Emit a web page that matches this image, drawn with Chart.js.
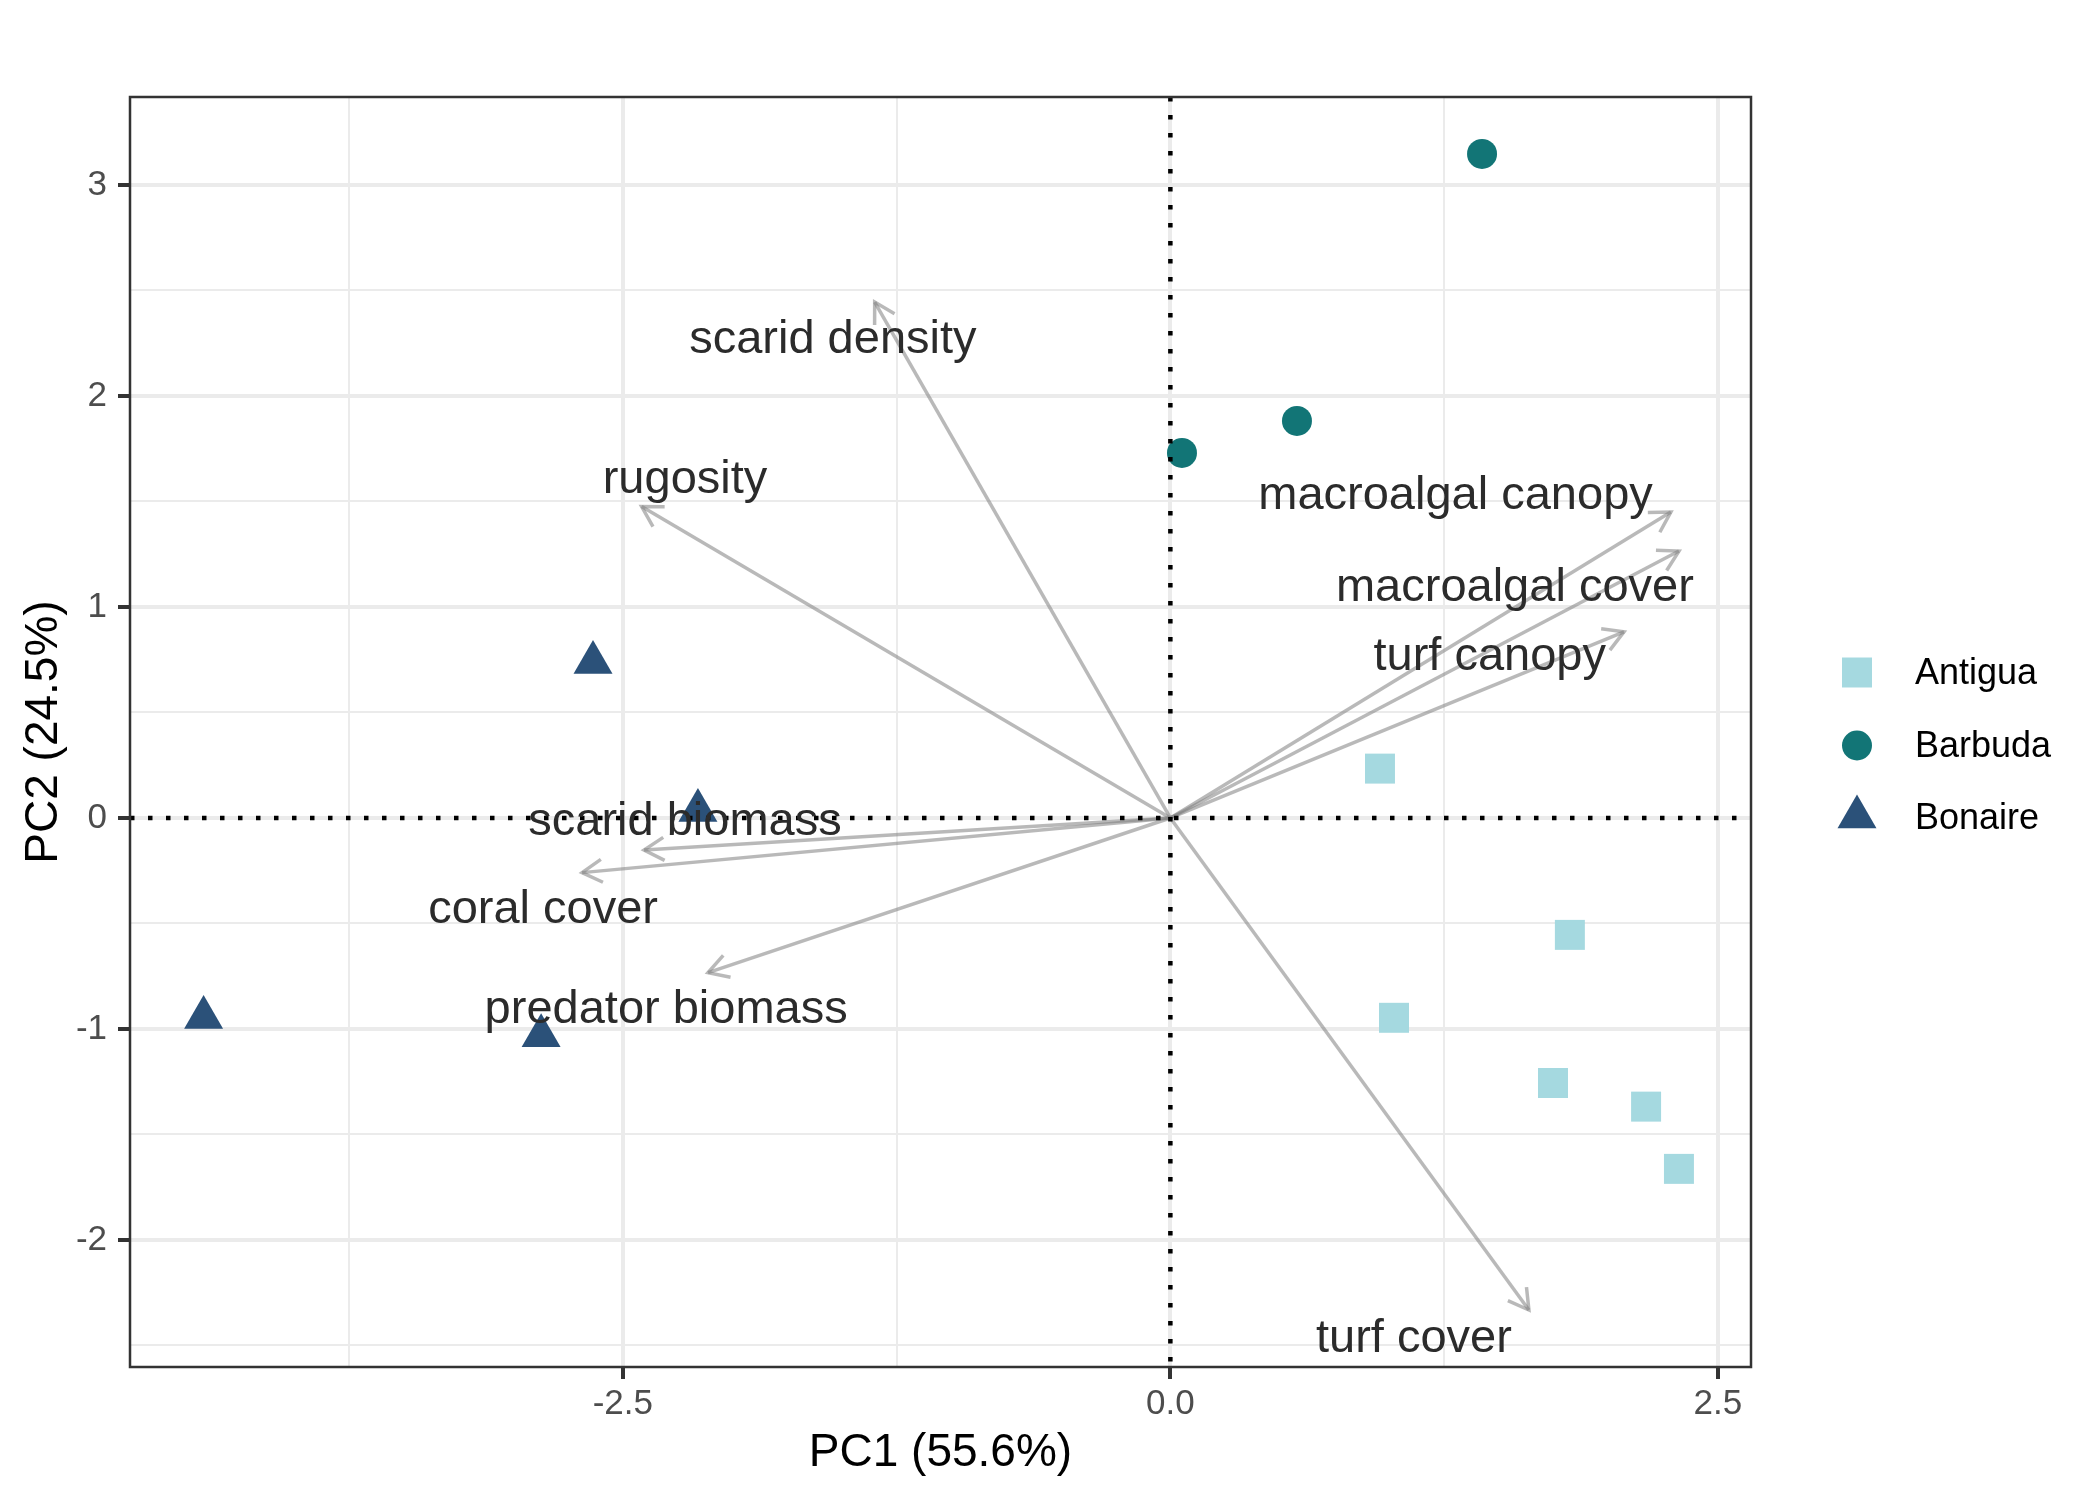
<!DOCTYPE html>
<html>
<head>
<meta charset="utf-8">
<title>PCA biplot</title>
<script src="https://cdn.jsdelivr.net/npm/chart.js@4.4.1/dist/chart.umd.min.js"></script>
<style>
  html, body { margin: 0; padding: 0; background: #fff; }
  #wrap { width: 2100px; height: 1500px; }
</style>
</head>
<body>
<div id="wrap"><canvas id="pcaChart" width="2100" height="1500"></canvas></div>
<script>
// site scores
const groups = ["Antigua", "Barbuda", "Bonaire"];
const antiguaPC1 = [0.957, 1.824, 1.021, 1.747, 2.172, 2.322];
const antiguaPC2 = [0.234, -0.554, -0.947, -1.256, -1.368, -1.663];
const barbudaPC1 = [1.423, 0.578, 0.053];
const barbudaPC2 = [3.147, 1.882, 1.730];
const bonairePC1 = [-2.636, -2.157, -4.414, -2.873];
const bonairePC2 = [0.737, 0.036, -0.945, -1.032];

// variable loadings (arrow tips) and where their labels sit
const loadingNames = ["scarid density", "rugosity", "macroalgal canopy", "macroalgal cover",
  "turf canopy", "scarid biomass", "coral cover", "predator biomass", "turf cover"];
const loadingPC1 = [-1.350, -2.414, 2.285, 2.322, 2.071, -2.403, -2.686, -2.111, 1.637];
const loadingPC2 = [2.445, 1.476, 1.450, 1.265, 0.882, -0.152, -0.259, -0.733, -2.332];
const labelPC1 = [-1.541, -2.216, 1.302, 1.573, 1.458, -2.216, -2.864, -2.302, 1.112];
const labelPC2 = [2.263, 1.600, 1.528, 1.088, 0.764, -0.020, -0.436, -0.910, -2.471];

// axes
const xTitle = "PC1 (55.6%)";
const yTitle = "PC2 (24.5%)";
const xMin = -4.75, xMax = 2.651;
const yMin = -2.602, yMax = 3.417;

const groupColors = ["#a5d9e0", "#127576", "#2b5179"];
const groupShapes = ["rect", "circle", "triangle"];
const groupRadius = [21.2, 15, 22.5];
const arrowColor = "rgba(128,128,128,0.55)";
const FONT = "'Liberation Sans', Arial, Helvetica, sans-serif";

Chart.defaults.font.family = FONT;

function toPoints(xs, ys) {
  return xs.map((v, i) => ({ x: v, y: ys[i] }));
}

const groupData = [
  toPoints(antiguaPC1, antiguaPC2),
  toPoints(barbudaPC1, barbudaPC2),
  toPoints(bonairePC1, bonairePC2),
];

const datasets = [];
loadingNames.forEach((name, i) => {
  datasets.push({
    label: name,
    isLoading: true,
    data: [{ x: 0, y: 0 }, { x: loadingPC1[i], y: loadingPC2[i] }],
    showLine: true,
    borderColor: arrowColor,
    borderWidth: 3.5,
    borderCapStyle: "butt",
    pointRadius: 0,
    pointHoverRadius: 0,
    order: 2,
  });
});
groups.forEach((g, i) => {
  datasets.push({
    label: g,
    data: groupData[i],
    pointStyle: groupShapes[i],
    pointRadius: groupRadius[i],
    pointHoverRadius: groupRadius[i],
    backgroundColor: groupColors[i],
    borderWidth: 0,
    order: 3,
  });
});

const isMajorX = v => Math.abs(v / 2.5 - Math.round(v / 2.5)) < 1e-6;
const isMajorY = v => Math.abs(v - Math.round(v)) < 1e-6;

const biplotExtras = {
  id: "biplotExtras",
  afterDatasetsDraw(chart) {
    const { ctx, chartArea: a, scales: { x, y } } = chart;
    ctx.save();
    ctx.beginPath();
    ctx.rect(a.left, a.top, a.right - a.left, a.bottom - a.top);
    ctx.clip();

    // open arrow heads at loading tips
    const headLen = 23, headAng = Math.PI / 6;
    ctx.strokeStyle = arrowColor;
    ctx.lineWidth = 3.5;
    ctx.lineJoin = "miter";
    chart.data.datasets.forEach((ds, i) => {
      if (!ds.isLoading) return;
      const pts = chart.getDatasetMeta(i).data;
      const p0 = pts[0], p1 = pts[1];
      const ang = Math.atan2(p1.y - p0.y, p1.x - p0.x);
      ctx.beginPath();
      ctx.moveTo(p1.x - headLen * Math.cos(ang - headAng), p1.y - headLen * Math.sin(ang - headAng));
      ctx.lineTo(p1.x, p1.y);
      ctx.lineTo(p1.x - headLen * Math.cos(ang + headAng), p1.y - headLen * Math.sin(ang + headAng));
      ctx.stroke();
    });

    // dotted zero lines
    const x0 = x.getPixelForValue(0), y0 = y.getPixelForValue(0);
    ctx.strokeStyle = "#000";
    ctx.lineWidth = 4.5;
    ctx.lineCap = "butt";
    ctx.setLineDash([4.5, 13.5]);
    ctx.beginPath();
    ctx.moveTo(a.left, y0); ctx.lineTo(a.right, y0);
    ctx.moveTo(x0, a.top); ctx.lineTo(x0, a.bottom);
    ctx.stroke();
    ctx.setLineDash([]);

    // loading labels
    ctx.fillStyle = "#2b2b2b";
    ctx.font = "47px " + FONT;
    ctx.textAlign = "center";
    ctx.textBaseline = "middle";
    loadingNames.forEach((name, i) => {
      ctx.fillText(name, x.getPixelForValue(labelPC1[i]), y.getPixelForValue(labelPC2[i]));
    });
    ctx.restore();

    // panel border
    ctx.save();
    ctx.strokeStyle = "#333333";
    ctx.lineWidth = 2.5;
    ctx.strokeRect(a.left, a.top, a.right - a.left, a.bottom - a.top);
    ctx.restore();
  },
  afterDraw(chart) {
    // legend on the right
    const { ctx } = chart;
    const keyX = 1857, textX = 1915;
    const rowY = [672.5, 745.5, 817];
    ctx.save();
    groups.forEach((g, i) => {
      ctx.fillStyle = groupColors[i];
      Chart.helpers.drawPoint(ctx, {
        pointStyle: groupShapes[i], radius: groupRadius[i], rotation: 0, borderWidth: 0,
      }, keyX, rowY[i]);
      ctx.fillStyle = "#000";
      ctx.font = "36px " + FONT;
      ctx.textAlign = "left";
      ctx.textBaseline = "middle";
      ctx.fillText(g, textX, rowY[i] + 2);
    });
    ctx.restore();
  },
};

const ctx = document.getElementById("pcaChart").getContext("2d");
const pcaChart = new Chart(ctx, {
  type: "scatter",
  data: { datasets: datasets },
  options: {
    responsive: false,
    animation: false,
    devicePixelRatio: 1,
    layout: { padding: { left: 0, top: 97, right: 349, bottom: 0 } },
    scales: {
      x: {
        type: "linear",
        min: xMin,
        max: xMax,
        afterFit: s => { s.height = 133; },
        border: { display: false },
        grid: {
          color: "#ebebeb",
          lineWidth: c => (isMajorX(c.tick.value) ? 4 : 2),
          tickLength: 12,
          tickWidth: 4,
          tickColor: c => (isMajorX(c.tick.value) ? "#333333" : "rgba(0,0,0,0)"),
        },
        ticks: {
          stepSize: 1.25,
          includeBounds: false,
          autoSkip: false,
          maxRotation: 0,
          padding: 4,
          color: "#4d4d4d",
          font: { size: 35 },
          callback: v => (isMajorX(v) ? v.toFixed(1) : ""),
        },
        title: {
          display: true,
          text: xTitle,
          color: "#000",
          font: { size: 46 },
          padding: { top: 0, bottom: 19 },
        },
      },
      y: {
        type: "linear",
        min: yMin,
        max: yMax,
        afterFit: s => { s.width = 130; },
        border: { display: false },
        grid: {
          color: "#ebebeb",
          lineWidth: c => (isMajorY(c.tick.value) ? 4 : 2),
          tickLength: 12,
          tickWidth: 4,
          tickColor: c => (isMajorY(c.tick.value) ? "#333333" : "rgba(0,0,0,0)"),
        },
        ticks: {
          stepSize: 0.5,
          includeBounds: false,
          autoSkip: false,
          padding: 11,
          color: "#4d4d4d",
          font: { size: 35 },
          callback: v => (isMajorY(v) ? String(Math.round(v)) : ""),
        },
        title: {
          display: true,
          text: yTitle,
          color: "#000",
          font: { size: 46 },
          padding: { top: 17, bottom: 0 },
        },
      },
    },
    plugins: {
      legend: { display: false },
      tooltip: { enabled: false },
    },
  },
  plugins: [biplotExtras],
});
</script>
</body>
</html>
